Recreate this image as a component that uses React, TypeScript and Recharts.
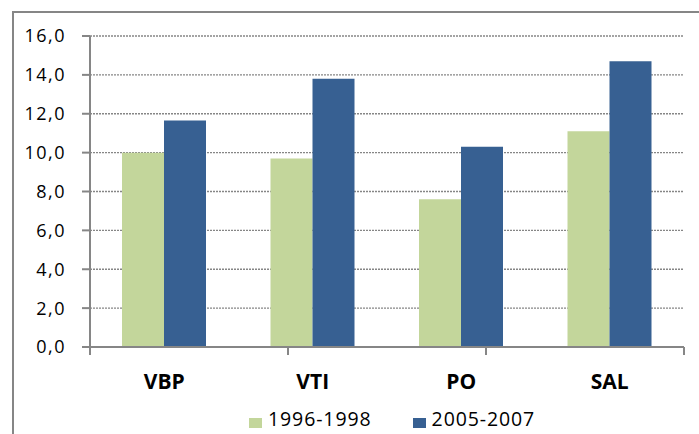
import { BarChart, Bar, XAxis, YAxis, CartesianGrid } from 'recharts'

const categories = ['VBP', 'VTI', 'PO', 'SAL']
const series1996 = [10.0, 9.7, 7.6, 11.1]
const series2005 = [11.65, 13.8, 10.3, 14.7]
const seriesNames = ['1996-1998', '2005-2007']
const seriesColors = ['#C3D69B', '#376092']
const yTicks = [0, 2, 4, 6, 8, 10, 12, 14, 16]
const edgeTicks = [0, 1, 2, 3, 4]

const data = categories.map((name, i) => ({
  name,
  a: series1996[i],
  b: series2005[i],
}))

const axisGray = '#868686'
const font = '"Open Sans", "Noto Sans", sans-serif'

export default function App() {
  return (
    <div style={{ position: 'absolute', left: 0, top: 0, width: 699, height: 434, overflow: 'hidden', background: '#fff' }}>
      <div
        style={{
          position: 'absolute',
          left: 12,
          top: 11,
          width: 700,
          height: 460,
          border: `2px solid ${axisGray}`,
          boxSizing: 'border-box',
        }}
      />
      <div style={{ position: 'absolute', left: 0, top: 0 }}>
        <BarChart
          width={699}
          height={434}
          data={data}
          margin={{ top: 36, right: 15, bottom: 46, left: 0 }}
          barCategoryGap={32}
          barGap={0}
        >
          <CartesianGrid
            xAxisId="z_cat"
            vertical={false}
            stroke={axisGray}
            strokeDasharray="2 1"
            strokeWidth={1.3}
          />
          <XAxis
            xAxisId="z_cat"
            dataKey="name"
            height={40}
            interval={0}
            axisLine={false}
            tickLine={false}
            tickSize={0}
            tickMargin={26}
            tick={{ fontSize: 21, fontWeight: 700, fill: '#000', fontFamily: font }}
          />
          <XAxis
            xAxisId="a_edges"
            type="number"
            domain={[0, 4]}
            ticks={edgeTicks}
            height={1}
            tickSize={8}
            tickFormatter={() => ''}
            allowDataOverflow
            axisLine={{ stroke: axisGray, strokeWidth: 2 }}
            tickLine={{ stroke: axisGray, strokeWidth: 2 }}
          />
          <YAxis
            domain={[0, 16]}
            ticks={yTicks}
            width={90}
            tickSize={8}
            tickMargin={16}
            tickFormatter={(v: number) => v.toFixed(1).replace('.', ',')}
            axisLine={{ stroke: axisGray, strokeWidth: 2 }}
            tickLine={{ stroke: axisGray, strokeWidth: 2 }}
            tick={{ fontSize: 18, fill: '#000', fontFamily: font, letterSpacing: 1.5 }}
          />
          <Bar xAxisId="z_cat" dataKey="a" name={seriesNames[0]} fill={seriesColors[0]} isAnimationActive={false} />
          <Bar xAxisId="z_cat" dataKey="b" name={seriesNames[1]} fill={seriesColors[1]} isAnimationActive={false} />
        </BarChart>
      </div>
      <div
        style={{
          position: 'absolute',
          left: 249,
          top: 409,
          display: 'flex',
          alignItems: 'flex-start',
          fontFamily: font,
          fontSize: 19.5,
          lineHeight: '20px',
          letterSpacing: 0.9,
          color: '#000',
          whiteSpace: 'nowrap',
        }}
      >
        {seriesNames.map((n, i) => (
          <div key={n} style={{ display: 'flex', alignItems: 'flex-start', marginRight: i === 0 ? 41 : 0 }}>
            <span style={{ display: 'inline-block', width: 13, height: 10, marginTop: 9, marginRight: 6, background: seriesColors[i] }} />
            <span>{n}</span>
          </div>
        ))}
      </div>
    </div>
  )
}
